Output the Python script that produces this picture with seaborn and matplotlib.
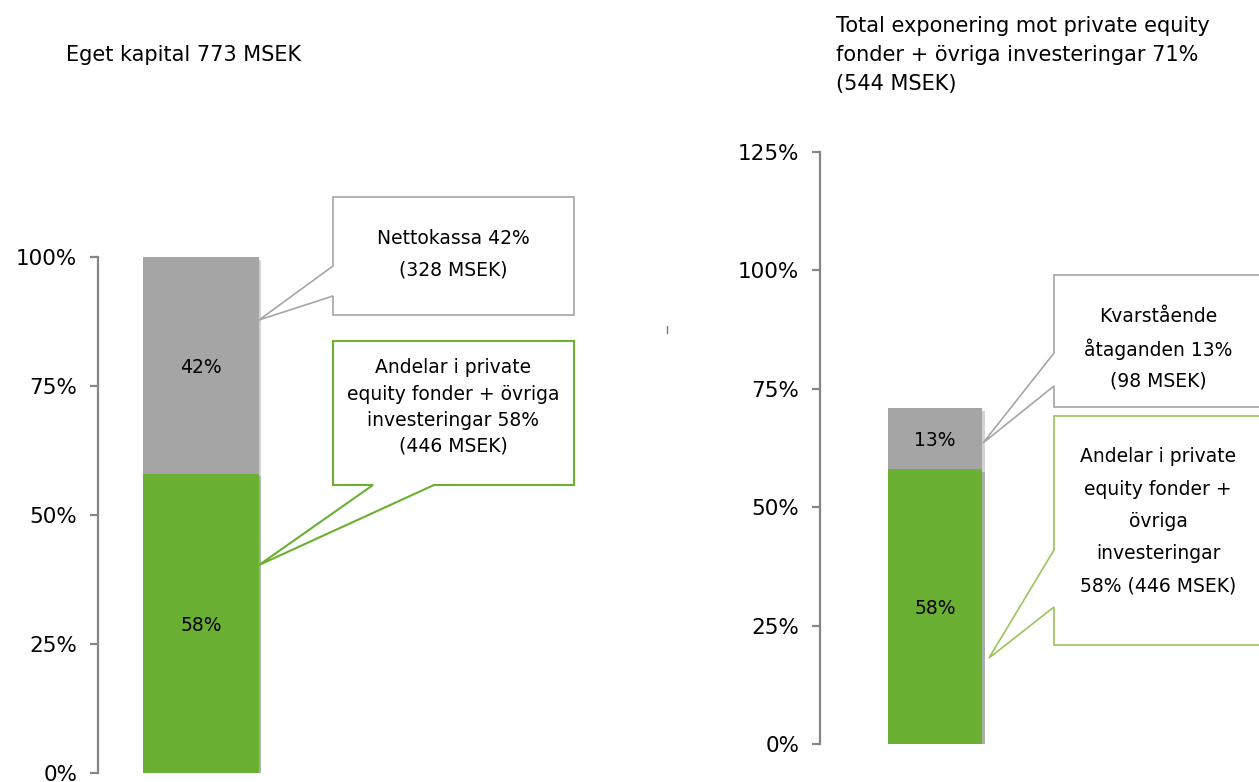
import pandas as pd
import seaborn as sns
import matplotlib
import matplotlib.pyplot as plt
from matplotlib.patches import Polygon
from matplotlib.lines import Line2D
import matplotlib.patheffects as pe

matplotlib.use('Agg')

# data
panels = ["Eget kapital", "Total exponering"]
green_pct = [58, 58]      # andelar i private equity fonder + övriga investeringar
grey_pct = [42, 13]       # nettokassa / kvarstående åtaganden
y_max = [100, 125]

sns.set_style("white")
plt.rcParams['font.family'] = ['DejaVu Sans']
plt.rcParams['text.color'] = 'black'

GREEN = '#6AB033'
GREY = '#A5A5A5'
AXIS = '#868686'

W, H = 1259, 782
fig = plt.figure(figsize=(W / 100, H / 100), dpi=100)


def px(x, y):
    # pixel (from top-left) -> figure fraction
    return (x / W, 1 - y / H)


def axes_px(x0, y_top, x1, y_bot):
    return fig.add_axes([x0 / W, 1 - y_bot / H, (x1 - x0) / W, (y_bot - y_top) / H])


def text_lines(x, y_first, lines, step, ha='center', size=13.5):
    for k, line in enumerate(lines):
        fig.text(*px(x, y_first + k * step), line, fontsize=size, ha=ha, va='center_baseline')


df = pd.DataFrame({'panel': panels, 'green': green_pct, 'grey': grey_pct})
df['total'] = df['green'] + df['grey']

axes = [axes_px(98, 257, 304, 773), axes_px(820, 152, 1050, 744)]
widths = [0.56, 0.41]

shadow = [pe.SimplePatchShadow(offset=(2, -2), alpha=0.22), pe.Normal()]

for i, ax in enumerate(axes):
    row = df.iloc[[i]]
    sns.barplot(data=row, x='panel', y='total', color=GREY, saturation=1,
                width=widths[i], linewidth=0, edgecolor='none', ax=ax)
    sns.barplot(data=row, x='panel', y='green', color=GREEN, saturation=1,
                width=widths[i], linewidth=0, edgecolor='none', ax=ax)
    for p in ax.patches:
        p.set_path_effects(shadow)
    g, r = row['green'].iloc[0], row['grey'].iloc[0]
    ax.text(0, g / 2, f'{g}%', ha='center', va='center_baseline', fontsize=13.5)
    ax.text(0, g + r / 2, f'{r}%', ha='center', va='center_baseline', fontsize=13.5)

    ax.set_xlim(-0.5, 0.5)
    ax.set_ylim(0, y_max[i])
    ticks = list(range(0, y_max[i] + 1, 25))
    ax.set_yticks(ticks)
    ax.set_yticklabels([f'{t}%' for t in ticks])
    ax.set_xticks([])
    ax.set_xlabel('')
    ax.set_ylabel('')
    for s in ['top', 'right', 'bottom']:
        ax.spines[s].set_visible(False)
    ax.spines['left'].set_color(AXIS)
    ax.spines['left'].set_linewidth(1.6)
    ax.tick_params(axis='y', length=6, width=1.6, color=AXIS, pad=9,
                   labelsize=15.5, labelcolor='black', left=True)
    ax.patch.set_alpha(0)

# titles
text_lines(66, 53, ['Eget kapital 773 MSEK'], 0, ha='left', size=15)
text_lines(836, 24, ['Total exponering mot private equity',
                     'fonder + övriga investeringar 71%',
                     '(544 MSEK)'], 29, ha='left', size=15)


# callouts
def callout(points, color, lw=1.2):
    fig.add_artist(Polygon([px(x, y) for x, y in points], closed=True,
                           facecolor='white', edgecolor=color, linewidth=lw,
                           transform=fig.transFigure))


callout([(333, 197), (574, 197), (574, 315), (333, 315), (333, 296), (259, 320), (333, 266)], '#A6A6A6')
callout([(333, 341), (574, 341), (574, 485), (434, 485), (259, 565), (373, 485), (333, 485)], GREEN, 1.5)
callout([(1054, 275), (1270, 275), (1270, 407), (1054, 407), (1054, 386), (983, 443), (1054, 353)], '#A6A6A6')
callout([(1054, 416), (1270, 416), (1270, 645), (1054, 645), (1054, 607), (989, 658), (1054, 550)], '#9BC45C')

text_lines(453, 236, ['Nettokassa 42%', '(328 MSEK)'], 32)
text_lines(453, 366, ['Andelar i private', 'equity fonder + övriga',
                      'investeringar 58%', '(446 MSEK)'], 26)
text_lines(1158, 315, ['Kvarstående', 'åtaganden 13%', '(98 MSEK)'], 32)
text_lines(1158, 455, ['Andelar i private', 'equity fonder +', 'övriga',
                       'investeringar', '58% (446 MSEK)'], 32.2)

# small stray mark between panels
fig.add_artist(Line2D([667 / W, 667 / W], [1 - 326 / H, 1 - 333 / H], color='#777777', lw=1,
                      transform=fig.transFigure))

fig.savefig('out.png', dpi=100)
